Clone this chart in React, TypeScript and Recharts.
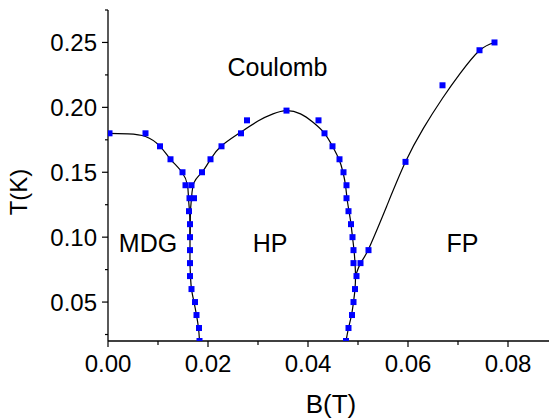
import React from "react";
import {
  ComposedChart,
  Line,
  Scatter,
  XAxis,
  YAxis,
  ReferenceDot,
} from "recharts";

// measured points: B (tesla) and T (kelvin)
const mdgB = [0.0003, 0.0075, 0.0104, 0.0125, 0.0149, 0.0155, 0.0167, 0.0163, 0.0172, 0.0162, 0.0164, 0.0164, 0.0164, 0.0164, 0.0164, 0.0167, 0.0174, 0.0177, 0.0182, 0.0183];
const mdgT = [0.18, 0.18, 0.17, 0.16, 0.15, 0.14, 0.14, 0.13, 0.13, 0.12, 0.11, 0.1, 0.09, 0.08, 0.07, 0.06, 0.05, 0.04, 0.03, 0.02];

const hpB = [0.0188, 0.0205, 0.0227, 0.0266, 0.0278, 0.0357, 0.0421, 0.0433, 0.0449, 0.0463, 0.0471, 0.0477, 0.0477, 0.0481, 0.0486, 0.0489, 0.0491, 0.0491, 0.0497, 0.0494, 0.0491, 0.0488, 0.0481, 0.0476];
const hpT = [0.15, 0.16, 0.17, 0.18, 0.19, 0.1975, 0.19, 0.18, 0.17, 0.16, 0.15, 0.14, 0.13, 0.12, 0.11, 0.1, 0.09, 0.08, 0.07, 0.06, 0.05, 0.04, 0.03, 0.02];

const fpB = [0.0505, 0.0521, 0.0595, 0.0669, 0.0743, 0.0773];
const fpT = [0.08, 0.09, 0.158, 0.217, 0.244, 0.25];

// guide-to-the-eye curves
const curveAB = [0, 0.004, 0.0075, 0.0104, 0.0125, 0.0148, 0.0159, 0.0161, 0.0163, 0.0164, 0.0164, 0.0164, 0.0164, 0.0165, 0.0167, 0.0172, 0.0177, 0.0181, 0.0183];
const curveAT = [0.18, 0.1795, 0.1775, 0.17, 0.16, 0.15, 0.14, 0.13, 0.12, 0.11, 0.1, 0.09, 0.08, 0.07, 0.06, 0.05, 0.04, 0.03, 0.02];

const curveBB = [0.0164, 0.0165, 0.0167, 0.0172, 0.0188, 0.0205, 0.0226, 0.0262, 0.03, 0.033, 0.0357, 0.0385, 0.041, 0.0433, 0.0449, 0.0462, 0.047, 0.0475, 0.0478, 0.0482, 0.0486, 0.0489, 0.0492, 0.0494, 0.0495, 0.0494, 0.0491, 0.0487, 0.0481, 0.0476];
const curveBT = [0.1, 0.12, 0.13, 0.142, 0.15, 0.16, 0.17, 0.18, 0.1895, 0.195, 0.1975, 0.195, 0.1885, 0.18, 0.17, 0.16, 0.15, 0.14, 0.13, 0.12, 0.11, 0.1, 0.09, 0.08, 0.07, 0.06, 0.05, 0.04, 0.03, 0.02];

const curveCB = [0.0495, 0.0505, 0.052, 0.0557, 0.0595, 0.0631, 0.0669, 0.0704, 0.0743, 0.0773];
const curveCT = [0.07, 0.08, 0.09, 0.1235, 0.158, 0.184, 0.207, 0.226, 0.2438, 0.25];

const xTicks = [0, 0.01, 0.02, 0.03, 0.04, 0.05, 0.06, 0.07, 0.08];
const yTicks = [0.025, 0.05, 0.075, 0.1, 0.125, 0.15, 0.175, 0.2, 0.225, 0.25, 0.275];

const regions = [
  { name: "Coulomb", b: 0.0339, t: 0.2238 },
  { name: "MDG", b: 0.008, t: 0.0886 },
  { name: "HP", b: 0.0324, t: 0.0886 },
  { name: "FP", b: 0.0709, t: 0.0886 },
];

const zip = (bs: number[], ts: number[]) => bs.map((b, i) => ({ b, t: ts[i] }));

const points = [...zip(mdgB, mdgT), ...zip(hpB, hpT), ...zip(fpB, fpT)];
const curveA = zip(curveAB, curveAT);
const curveB = zip(curveBB, curveBT);
const curveC = zip(curveCB, curveCT);

const FONT = '"Liberation Sans", Arial, sans-serif';

const isMultiple = (v: number, step: number) =>
  Math.abs(v / step - Math.round(v / step)) < 1e-6;

function YTick(props: any) {
  const { x, y, payload } = props;
  const major = isMultiple(payload.value, 0.05);
  return (
    <g>
      <line x1={x - (major ? 6 : 3)} y1={y} x2={x} y2={y} stroke="#000" strokeWidth={1.2} />
      {major && (
        <text x={x - 11} y={y} dy="0.36em" textAnchor="end" fontSize={24} fontFamily={FONT} fill="#000">
          {payload.value.toFixed(2)}
        </text>
      )}
    </g>
  );
}

function XTick(props: any) {
  const { x, y, payload } = props;
  const major = isMultiple(payload.value, 0.02);
  return (
    <g>
      <line x1={x} y1={y} x2={x} y2={y + (major ? 6 : 4)} stroke="#000" strokeWidth={1.2} />
      {major && (
        <text x={x} y={y + 31} textAnchor="middle" fontSize={24} fontFamily={FONT} fill="#000">
          {payload.value.toFixed(2)}
        </text>
      )}
    </g>
  );
}

const Square = (props: any) => {
  const { cx, cy } = props;
  return <rect x={cx - 3} y={cy - 3} width={6} height={6} fill="#0000ff" />;
};

export default function App() {
  return (
    <div style={{ position: "absolute", left: 0, top: 0, background: "#fff" }}>
      <ComposedChart
        width={549}
        height={419}
        margin={{ top: 10, right: 0, left: 0, bottom: 0 }}
      >
        <XAxis
          type="number"
          dataKey="b"
          domain={[0, 0.0882]}
          allowDataOverflow
          ticks={xTicks}
          interval={0}
          tick={<XTick />}
          tickSize={0}
          tickMargin={0}
          tickLine={false}
          axisLine={{ stroke: "#000", strokeWidth: 1.3 }}
          height={78}
        />
        <YAxis
          type="number"
          dataKey="t"
          domain={[0.02, 0.275]}
          allowDataOverflow
          ticks={yTicks}
          interval={0}
          tick={<YTick />}
          tickSize={0}
          tickMargin={0}
          tickLine={false}
          axisLine={{ stroke: "#000", strokeWidth: 1.3 }}
          width={108}
        />
        <Line data={curveA} dataKey="t" type="natural" stroke="#000" strokeWidth={1.2} dot={false} isAnimationActive={false} />
        <Line data={curveB} dataKey="t" type="natural" stroke="#000" strokeWidth={1.2} dot={false} isAnimationActive={false} />
        <Line data={curveC} dataKey="t" type="natural" stroke="#000" strokeWidth={1.2} dot={false} isAnimationActive={false} />
        <Scatter data={points} dataKey="t" shape={<Square />} isAnimationActive={false} />
        {regions.map((r) => (
          <ReferenceDot
            key={r.name}
            x={r.b}
            y={r.t}
            r={0}
            shape={(p: any) => (
              <text x={p.cx} y={p.cy} textAnchor="middle" fontSize={25} fontFamily={FONT} fill="#000">
                {r.name}
              </text>
            )}
          />
        ))}
      </ComposedChart>
      <svg
        width={549}
        height={419}
        style={{ position: "absolute", left: 0, top: 0, pointerEvents: "none" }}
      >
        <text x={27} y={192} transform="rotate(-90, 27, 192)" textAnchor="middle" fontSize={24} fontFamily={FONT} fill="#000">
          T(K)
        </text>
        <text x={331} y={413} textAnchor="middle" fontSize={26} fontFamily={FONT} fill="#000">
          B(T)
        </text>
      </svg>
    </div>
  );
}
